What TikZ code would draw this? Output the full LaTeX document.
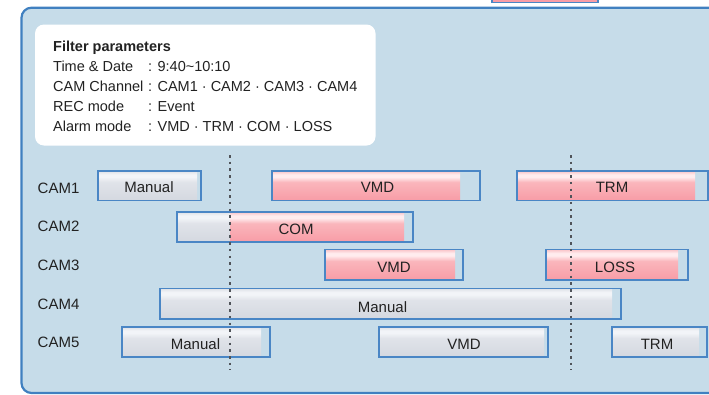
\documentclass[tikz,border=0pt]{standalone}
\usepackage{fontspec}
\setmainfont{Liberation Sans}
\usepackage{tikz}

\definecolor{panelfill}{RGB}{198,220,233}
\definecolor{panelline}{RGB}{64,128,192}
\definecolor{barline}{RGB}{74,134,197}
\definecolor{txtgray}{RGB}{34,34,34}
\definecolor{dotgray}{RGB}{80,84,90}
\definecolor{pinkbot}{RGB}{248,156,166}
\definecolor{pinkmid}{RGB}{250,182,188}
\definecolor{pinkwhite}{RGB}{255,236,238}
\definecolor{pinktop}{RGB}{249,196,200}
\definecolor{greybot}{RGB}{212,216,224}
\definecolor{greymid}{RGB}{224,227,233}
\definecolor{greywhite}{RGB}{242,244,248}
\definecolor{greytop}{RGB}{222,225,231}

\pgfdeclareverticalshading{pinkbar}{100bp}{color(0bp)=(pinkbot); color(25bp)=(pinkbot);
  color(56bp)=(pinkmid); color(65bp)=(pinkwhite); color(69bp)=(pinkwhite); color(75bp)=(pinktop); color(100bp)=(pinktop)}
\pgfdeclareverticalshading{greybar}{100bp}{color(0bp)=(greybot); color(25bp)=(greybot);
  color(56bp)=(greymid); color(65bp)=(greywhite); color(69bp)=(greywhite); color(75bp)=(greytop); color(100bp)=(greytop)}

\begin{document}
\begin{tikzpicture}[x=1pt, y=-1pt, text=txtgray, font=\fontsize{15}{18}\selectfont,
  recbox/.style={draw=barline, line width=1.3pt},
  pinkfill/.style={shading=pinkbar},
  greyfill/.style={shading=greybar},
  lbl/.style={anchor=base, inner sep=0pt},
  cam/.style={anchor=base west, inner sep=0pt},
  par/.style={anchor=base west, inner sep=0pt, font=\fontsize{14.5}{17}\selectfont},
  marker/.style={draw=dotgray, line width=1.8pt, dash pattern=on 2.5pt off 4.2pt}]
\clip (0, 0) rectangle (709, 394);

% Panel
\draw[draw=barline, fill=pinkbot, line width=1.5pt] (492, -10) rectangle (598, 2.5);
\draw[draw=panelline, fill=panelfill, line width=2.2pt, rounded corners=10pt] (21.5, 7.7) rectangle (760, 393);
\fill[white, rounded corners=9pt] (35, 24.5) rectangle (375.5, 145.5);

% Filter box
\node[par] (title) at (53, 51) {\textbf{Filter parameters}};
\node[par] (k1) at (53, 71) {Time \& Date};
\node[par] (k2) at (53, 91) {CAM Channel};
\node[par] (k3) at (53, 111) {REC mode};
\node[par] (k4) at (53, 131) {Alarm mode};
\node[par] (v1) at (148, 71) {: 9:40\textasciitilde10:10};
\node[par] (v2) at (148, 91) {: CAM1 · CAM2 · CAM3 · CAM4};
\node[par] (v3) at (148, 111) {: Event};
\node[par] (v4) at (148, 131) {: VMD · TRM · COM · LOSS};

% Channels
\node[cam] (cam1) at (37.5, 193.3) {CAM1};
\node[cam] (cam2) at (37.5, 231.7) {CAM2};
\node[cam] (cam3) at (37.5, 270) {CAM3};
\node[cam] (cam4) at (37.5, 309.3) {CAM4};
\node[cam] (cam5) at (37.5, 347.7) {CAM5};

% CAM1
\shade[greyfill] (98, 171) rectangle (197, 200.5);
\draw[recbox] (98, 171) rectangle (201, 200.5);
\node[lbl] (c1man) at (149, 192.3) {Manual};
\shade[pinkfill] (272, 171) rectangle (460, 200.5);
\draw[recbox] (272, 171) rectangle (480, 200.5);
\node[lbl] (c1vmd) at (377.5, 192.3) {VMD};
\shade[pinkfill] (517, 171) rectangle (695, 200.5);
\draw[recbox] (517, 171) rectangle (708, 200.5);
\node[lbl] (c1trm) at (612, 192.3) {TRM};

% CAM2
\shade[greyfill] (177, 212) rectangle (230, 242);
\shade[pinkfill] (230, 212) rectangle (404, 242);
\draw[recbox] (177, 212) rectangle (413, 242);
\node[lbl] (c2com) at (296, 234) {COM};

% CAM3
\shade[pinkfill] (325, 249.5) rectangle (455, 280);
\draw[recbox] (325, 249.5) rectangle (463, 280);
\node[lbl] (c3vmd) at (394, 272) {VMD};
\shade[pinkfill] (546, 249.5) rectangle (678, 280);
\draw[recbox] (546, 249.5) rectangle (688, 280);
\node[lbl] (c3loss) at (615, 272) {LOSS};

% CAM4
\shade[greyfill] (160, 288.5) rectangle (612, 319);
\draw[recbox] (160, 288.5) rectangle (621, 319);
\node[lbl] (c4man) at (382.5, 312) {Manual};

% CAM5
\shade[greyfill] (122, 327) rectangle (261, 357);
\draw[recbox] (122, 327) rectangle (270, 357);
\node[lbl] (c5man) at (195.5, 349.5) {Manual};
\shade[greyfill] (379, 327) rectangle (544, 357);
\draw[recbox] (379, 327) rectangle (548, 357);
\node[lbl] (c5vmd) at (464, 349.5) {VMD};
\shade[greyfill] (612, 327) rectangle (699, 357);
\draw[recbox] (612, 327) rectangle (707, 357);
\node[lbl] (c5trm) at (657, 349.5) {TRM};

% Time markers
\draw[marker] (230, 155) -- (230, 370);
\draw[marker] (571, 155) -- (571, 370);
\end{tikzpicture}
\end{document}
